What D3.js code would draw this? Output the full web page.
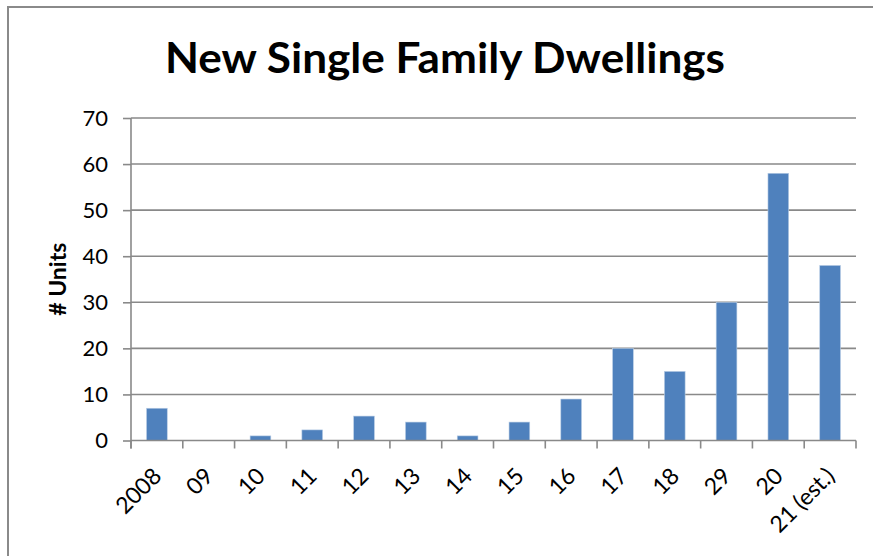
<!DOCTYPE html>
<html>
<head>
<meta charset="utf-8">
<script src="https://cdn.jsdelivr.net/npm/d3@7"></script>
<style>
  html, body { margin: 0; padding: 0; background: #fff; }
  svg { display: block; }
  text { font-family: Lato, "Open Sans", sans-serif; fill: #000; }
</style>
</head>
<body>
<svg id="chart" width="873" height="556"></svg>
<script>
// Chart data
const categories = ["2008", "09", "10", "11", "12", "13", "14", "15", "16", "17", "18", "29", "20", "21 (est.)"];
const units = [7, 0, 1, 2.3, 5.3, 4, 1, 4, 9, 20, 15, 30, 58, 38];
const yTicks = [0, 10, 20, 30, 40, 50, 60, 70];
const titleText = "New Single Family Dwellings";
const yTitle = "# Units";

const svg = d3.select("#chart");
const W = 873, H = 556;
const plot = { left: 131, right: 856, top: 118, bottom: 440.5 };
const gridColor = "#898989";

// Outer frame (extends beyond the canvas on the right and bottom)
svg.append("rect")
  .attr("x", 8).attr("y", 7)
  .attr("width", W + 20).attr("height", H + 20)
  .attr("fill", "#fff")
  .attr("stroke", "#8a8a8a").attr("stroke-width", 2);

// Scales
const x = d3.scaleBand()
  .domain(categories)
  .range([plot.left, plot.right])
  .paddingInner(0.6)
  .paddingOuter(0.3);
const step = x.step();
const y = d3.scaleLinear().domain([0, 70]).range([plot.bottom, plot.top]);

// Horizontal gridlines
svg.append("g")
  .selectAll("line")
  .data(yTicks.filter(d => d > 0))
  .join("line")
  .attr("x1", plot.left).attr("x2", plot.right)
  .attr("y1", d => y(d)).attr("y2", d => y(d))
  .attr("stroke", gridColor).attr("stroke-width", 1.6);

// Bars
svg.append("g")
  .selectAll("rect")
  .data(categories.map((c, i) => ({ c, v: units[i] })))
  .join("rect")
  .attr("x", d => x(d.c))
  .attr("width", x.bandwidth())
  .attr("y", d => y(d.v))
  .attr("height", d => y(0) - y(d.v))
  .attr("fill", "#4f81bd")
  .attr("stroke", "#b9cde5")
  .attr("stroke-width", 0.6);

// Y axis
const yAxis = d3.axisLeft(y)
  .tickValues(yTicks)
  .tickSize(8)
  .tickPadding(15)
  .tickFormat(d3.format("d"));
const gy = svg.append("g")
  .attr("transform", `translate(${plot.left},0)`)
  .call(yAxis);
gy.select(".domain").remove();
gy.selectAll(".tick line").attr("stroke", gridColor).attr("stroke-width", 1.6);
gy.selectAll(".tick text")
  .attr("font-size", 22)
  .style("font-family", "Lato, sans-serif")
  .attr("fill", "#000");
svg.append("line")
  .attr("x1", plot.left).attr("x2", plot.left)
  .attr("y1", plot.top).attr("y2", plot.bottom + 8)
  .attr("stroke", gridColor).attr("stroke-width", 1.6);

// X axis: ticks sit on category boundaries, labels rotated under each bar
const boundaries = d3.range(categories.length + 1).map(i => plot.left + i * step);
svg.append("line")
  .attr("x1", plot.left).attr("x2", plot.right)
  .attr("y1", plot.bottom).attr("y2", plot.bottom)
  .attr("stroke", gridColor).attr("stroke-width", 1.6);
svg.append("g")
  .selectAll("line")
  .data(boundaries)
  .join("line")
  .attr("x1", d => d).attr("x2", d => d)
  .attr("y1", plot.bottom).attr("y2", plot.bottom + 8)
  .attr("stroke", gridColor).attr("stroke-width", 1.6);

svg.append("g")
  .selectAll("text")
  .data(categories)
  .join("text")
  .attr("text-anchor", "end")
  .attr("font-size", 23)
  .attr("transform", d => {
    const cx = x(d) + x.bandwidth() / 2 + 6;
    const cy = plot.bottom + 37;
    return `translate(${cx},${cy}) rotate(-45)`;
  })
  .text(d => d);

// Y axis title
svg.append("text")
  .attr("transform", `translate(66,${(plot.top + plot.bottom) / 2}) rotate(-90)`)
  .attr("text-anchor", "middle")
  .attr("font-size", 23)
  .attr("font-weight", 700)
  .text(yTitle);

// Chart title: cap height set by font size, then narrowed to its target width
const titleCx = 445, titleBase = 73, titleWidth = 560;
const title = svg.append("text")
  .attr("text-anchor", "middle")
  .attr("font-size", 42)
  .attr("font-weight", 700)
  .text(titleText);
const tw = title.node().getComputedTextLength();
title.attr("transform", `translate(${titleCx},${titleBase}) scale(${titleWidth / tw},1)`);
</script>
</body>
</html>
